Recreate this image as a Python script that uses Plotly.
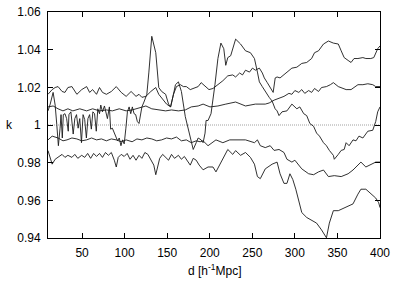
import plotly.graph_objects as go

# ---- data (d in h^-1 Mpc, k) ----
x_a = [10, 14.9, 18.4, 21.8, 26.5, 29.9, 33.4, 38.1, 43.9, 49.6, 55.4, 58.9, 62.4, 67.0, 70.5, 74.0, 78.6, 84.4, 90.2, 96.0,
       101.8, 107.6, 113.4, 116.9, 120.3, 125.0, 130.8, 136.6, 140.1, 144.7, 149.3, 154.0, 157.4, 160.9, 165.5, 169.0, 172.5, 177.1, 182.9, 186.4,
       189.9, 194.5, 199.1, 203.8, 209.6, 215.4, 221.2, 227.0, 230.4, 235.1, 238.5, 242.0, 246.7, 250.2, 253.6, 258.3, 261.8, 264.1, 267.6, 271.0,
       274.5, 276.9, 279.1, 282.6, 287.2, 293.0, 296.5, 302.3, 308.1, 313.9, 319.7, 323.1, 327.8, 333.6, 339.4, 345.2, 351.0, 354.4, 357.9, 362.5,
       366.0, 369.5, 374.1, 379.9, 383.4, 389.2, 392.7, 397.3, 400]
k_a = [1.0163, 1.0188, 1.0199, 1.0204, 1.0178, 1.0173, 1.0199, 1.0204, 1.0163, 1.0188, 1.0204, 1.0173, 1.0188, 1.0163, 1.0199, 1.0173, 1.0163, 1.0178, 1.0204, 1.0173,
       1.0152, 1.0178, 1.0152, 1.0163, 1.0147, 1.0152, 1.0178, 1.0199, 1.0163, 1.0137, 1.0111, 1.0096, 1.0163, 1.0204, 1.0214, 1.0204, 1.0204, 1.0188, 1.0199, 1.0204,
       1.0225, 1.0204, 1.0188, 1.0194, 1.0214, 1.0235, 1.0261, 1.0266, 1.0255, 1.0276, 1.0266, 1.0291, 1.0281, 1.0302, 1.0291, 1.0302, 1.0276, 1.0250, 1.0225, 1.0199,
       1.0173, 1.0250, 1.0255, 1.0250, 1.0266, 1.0291, 1.0302, 1.0307, 1.0327, 1.0332, 1.0353, 1.0384, 1.0394, 1.0430, 1.0446, 1.0435, 1.0430, 1.0394, 1.0358, 1.0343,
       1.0332, 1.0353, 1.0353, 1.0358, 1.0353, 1.0353, 1.0358, 1.0405, 1.0420]

x_b = [10, 16.0, 21.8, 27.6, 33.4, 39.2, 47.3, 55.4, 62.4, 70.5, 78.6, 85.6, 93.7, 101.8, 108.8, 116.9, 125.0, 131.9, 140.1, 148.2,
       155.1, 163.2, 171.3, 178.3, 186.4, 192.2, 200.3, 209.6, 218.9, 230.4, 242.0, 253.6, 265.2, 269.8, 275.6, 281.4, 287.2, 293.0, 296.5, 300.0,
       304.6, 308.1, 311.6, 316.2, 319.7, 323.1, 327.8, 331.3, 337.1, 341.7, 345.2, 351.0, 354.4, 360.2, 366.0, 371.8, 374.1, 379.9, 385.7, 391.5,
       395.0, 400]
k_b = [1.0096, 1.0101, 1.0086, 1.0075, 1.0086, 1.0075, 1.0086, 1.0075, 1.0086, 1.0075, 1.0080, 1.0075, 1.0086, 1.0075, 1.0080, 1.0091, 1.0101, 1.0086, 1.0080, 1.0075,
       1.0080, 1.0075, 1.0080, 1.0096, 1.0101, 1.0111, 1.0096, 1.0101, 1.0111, 1.0122, 1.0101, 1.0111, 1.0111, 1.0117, 1.0132, 1.0142, 1.0152, 1.0168, 1.0163, 1.0183,
       1.0173, 1.0188, 1.0168, 1.0183, 1.0173, 1.0194, 1.0178, 1.0199, 1.0204, 1.0214, 1.0225, 1.0204, 1.0199, 1.0188, 1.0188, 1.0204, 1.0214, 1.0214, 1.0219, 1.0214,
       1.0204, 1.0204]

x_c = [10, 12.6, 16.0, 18.4, 20.3, 22.2, 24.2, 25.3, 26.8, 28.0, 29.9, 31.9, 33.8, 34.6, 36.9, 39.6, 41.5, 43.5, 45.4, 47.3,
       49.3, 51.2, 53.1, 55.1, 56.9, 58.9, 60.9, 62.7, 64.7, 66.7, 68.5, 70.5, 72.0, 74.0, 76.3, 79.8, 82.1, 83.6, 85.6, 87.9,
       89.9, 91.7, 93.7, 95.7, 97.5, 99.5, 101.5, 103.3, 105.3, 107.2, 109.1, 111.1, 113.0, 114.9, 116.9, 120.3, 122.7, 126.1, 128.5, 131.9,
       136.6, 140.1, 143.5, 148.2, 151.6, 154.0, 157.4, 159.7, 163.2, 166.7, 171.3, 174.8, 177.1, 180.6, 184.1, 186.4, 189.9, 192.2, 194.5, 195.7,
       198.0, 201.5, 206.1, 209.6, 213.1, 216.5, 218.8, 221.2, 224.6, 230.4, 236.2, 242.0, 247.8, 250.2, 252.5, 256.0, 258.3, 261.7, 265.2, 269.8,
       273.3, 276.8, 279.1, 281.4, 284.9, 290.7, 296.5, 302.3, 305.8, 310.4, 313.9, 317.6, 322.0, 325.5, 328.9, 333.6, 337.1, 340.5, 345.2, 346.3,
       351.0, 354.4, 357.9, 360.2, 363.7, 368.3, 371.8, 375.3, 379.9, 385.7, 391.5, 395.0, 397.3, 400]
k_c = [1.0075, 1.0111, 1.0173, 1.0106, 1.0003, 0.9890, 0.9983, 1.0055, 0.9931, 1.0055, 1.0060, 1.0034, 0.9967, 1.0055, 1.0070, 0.9952, 1.0034, 1.0055, 0.9983, 1.0034,
       0.9906, 1.0055, 1.0029, 0.9931, 1.0034, 1.0055, 0.9978, 1.0070, 1.0060, 0.9967, 1.0086, 1.0060, 1.0106, 1.0070, 1.0101, 1.0034, 1.0096, 0.9978, 0.9983, 0.9957,
       0.9941, 0.9916, 0.9931, 0.9890, 0.9921, 0.9900, 0.9983, 1.0070, 1.0096, 1.0060, 1.0096, 1.0060, 1.0055, 1.0019, 1.0008, 1.0096, 1.0122, 1.0163, 1.0281, 1.0471,
       1.0384, 1.0199, 1.0178, 1.0163, 1.0111, 1.0096, 1.0163, 1.0214, 1.0229, 1.0178, 1.0044, 0.9972, 0.9941, 0.9870, 0.9906, 0.9931, 0.9921, 0.9906, 0.9957, 1.0024,
       1.0024, 1.0060, 1.0214, 1.0353, 1.0435, 1.0405, 1.0317, 1.0358, 1.0368, 1.0456, 1.0430, 1.0394, 1.0384, 1.0368, 1.0353, 1.0281, 1.0229, 1.0204, 1.0178, 1.0147,
       1.0127, 1.0086, 1.0075, 1.0050, 1.0070, 1.0075, 1.0111, 1.0086, 1.0096, 1.0060, 1.0050, 1.0008, 0.9993, 0.9957, 0.9941, 0.9906, 0.9890, 0.9865, 0.9839, 0.9818,
       0.9844, 0.9865, 0.9870, 0.9906, 0.9890, 0.9921, 0.9916, 0.9941, 0.9931, 0.9967, 0.9972, 1.0019, 1.0070, 1.0096]

x_d = [10, 14.9, 21.8, 27.6, 32.3, 38.1, 43.9, 49.6, 55.4, 61.2, 67.0, 72.8, 78.6, 84.4, 90.2, 96.0, 101.8, 108.8, 114.5, 120.3,
       126.1, 131.9, 137.7, 143.5, 149.3, 155.1, 160.9, 166.7, 172.5, 178.3, 184.1, 188.7, 192.2, 198.0, 207.3, 215.4, 223.5, 235.1, 242.0, 252.5,
       256.0, 259.4, 265.2, 271.0, 275.6, 281.4, 287.2, 290.7, 296.5, 300.0, 308.1, 316.2, 322.0, 327.8, 333.6, 339.4, 346.3, 354.4, 362.5, 368.3,
       374.1, 377.6, 383.4, 389.2, 395.0, 400]
k_d = [0.9921, 0.9941, 0.9931, 0.9916, 0.9921, 0.9931, 0.9926, 0.9916, 0.9921, 0.9931, 0.9921, 0.9926, 0.9916, 0.9926, 0.9921, 0.9911, 0.9921, 0.9911, 0.9926, 0.9921,
       0.9931, 0.9926, 0.9916, 0.9921, 0.9931, 0.9926, 0.9936, 0.9916, 0.9921, 0.9906, 0.9916, 0.9911, 0.9916, 0.9890, 0.9921, 0.9906, 0.9921, 0.9921, 0.9921, 0.9906,
       0.9921, 0.9890, 0.9880, 0.9890, 0.9865, 0.9870, 0.9854, 0.9818, 0.9803, 0.9813, 0.9767, 0.9741, 0.9736, 0.9751, 0.9761, 0.9726, 0.9731, 0.9726, 0.9741, 0.9761,
       0.9787, 0.9803, 0.9777, 0.9792, 0.9803, 0.9803]

x_e = [10, 12.6, 14.9, 18.4, 21.8, 26.5, 29.9, 33.4, 38.1, 41.5, 45.0, 49.6, 53.1, 56.6, 60.1, 63.6, 67.0, 70.5, 74.0, 77.5,
       80.9, 84.4, 87.9, 90.2, 92.5, 96.0, 99.5, 103.0, 106.4, 109.9, 113.4, 116.9, 120.3, 123.8, 127.3, 130.8, 134.3, 136.6, 138.9, 141.2,
       144.7, 148.2, 151.6, 155.1, 158.6, 163.2, 166.7, 170.2, 173.6, 177.1, 180.6, 184.1, 187.6, 192.2, 198.0, 203.8, 207.3, 213.1, 221.2, 227.0,
       230.4, 236.2, 242.0, 247.8, 252.5, 256.0, 259.4, 265.2, 273.3, 279.1, 282.6, 287.2, 290.7, 294.2, 297.6, 301.1, 304.6, 308.1, 313.9, 319.7,
       325.5, 331.3, 337.1, 340.5, 345.2, 351.0, 356.7, 362.5, 368.3, 374.1, 377.6, 383.4, 389.2, 395.0, 398.5, 400]
k_e = [0.9864, 0.9818, 0.9792, 0.9818, 0.9828, 0.9844, 0.9828, 0.9839, 0.9828, 0.9844, 0.9823, 0.9839, 0.9828, 0.9849, 0.9823, 0.9849, 0.9833, 0.9849, 0.9828, 0.9854,
       0.9839, 0.9854, 0.9813, 0.9777, 0.9828, 0.9844, 0.9833, 0.9849, 0.9818, 0.9839, 0.9813, 0.9839, 0.9823, 0.9854, 0.9844, 0.9813, 0.9787, 0.9736, 0.9777, 0.9823,
       0.9844, 0.9828, 0.9813, 0.9844, 0.9823, 0.9839, 0.9818, 0.9833, 0.9813, 0.9787, 0.9823, 0.9813, 0.9787, 0.9762, 0.9777, 0.9777, 0.9751, 0.9803, 0.9870, 0.9844,
       0.9864, 0.9839, 0.9854, 0.9828, 0.9792, 0.9726, 0.9715, 0.9767, 0.9792, 0.9803, 0.9741, 0.9690, 0.9690, 0.9741, 0.9710, 0.9659, 0.9597, 0.9535, 0.9509, 0.9494,
       0.9479, 0.9443, 0.9401, 0.9479, 0.9545, 0.9545, 0.9556, 0.9571, 0.9581, 0.9633, 0.9659, 0.9659, 0.9638, 0.9612, 0.9587, 0.9561]

ref_x = [10, 400]
ref_k = [1.0, 1.0]

x_ticks = [50, 100, 150, 200, 250, 300, 350, 400]
y_ticks = [0.94, 0.96, 0.98, 1.0, 1.02, 1.04, 1.06]
y_tick_text = ["0.94", "0.96", "0.98", "1", "1.02", "1.04", "1.06"]

FONT = "Liberation Sans, Arial, Helvetica, sans-serif"

fig = go.Figure()
fig.add_trace(go.Scatter(x=ref_x, y=ref_k, mode="lines",
                         line=dict(color="#a0a0a0", width=1, dash="1px,1px"),
                         hoverinfo="skip", showlegend=False))
for xs, ks in [(x_a, k_a), (x_b, k_b), (x_c, k_c), (x_d, k_d), (x_e, k_e)]:
    fig.add_trace(go.Scatter(x=xs, y=ks, mode="lines",
                             line=dict(color="#1a1a1a", width=0.9),
                             showlegend=False))

axis_common = dict(showgrid=False, zeroline=False, showline=True, linecolor="#000",
                   linewidth=1, mirror="allticks", ticks="inside", ticklen=5,
                   tickcolor="#000", tickwidth=1, ticklabeloverflow="allow",
                   tickfont=dict(family=FONT, size=12, color="#000"))

fig.update_xaxes(range=[10, 400.0001], tickvals=x_ticks, ticklabelstandoff=4, **axis_common)
fig.update_yaxes(range=[0.93999, 1.06001], tickvals=y_ticks, ticktext=y_tick_text,
                 ticklabelstandoff=4, **axis_common)

fig.add_annotation(text="k", xref="paper", yref="y", x=-0.115, y=1.0,
                   showarrow=False, xanchor="center", yanchor="middle",
                   font=dict(family=FONT, size=12, color="#000"))
fig.add_annotation(text="d [h<sup>-1</sup>Mpc]", xref="paper", yref="paper",
                   x=0.5, y=-0.142, showarrow=False, xanchor="center", yanchor="middle",
                   font=dict(family=FONT, size=12, color="#000"))

fig.update_layout(width=395, height=283,
                  margin=dict(l=48, r=11, t=5, b=45),
                  paper_bgcolor="white", plot_bgcolor="white",
                  showlegend=False)

fig.write_html("out.html", config={"displayModeBar": False},
               post_script="document.body.style.margin='0';")
